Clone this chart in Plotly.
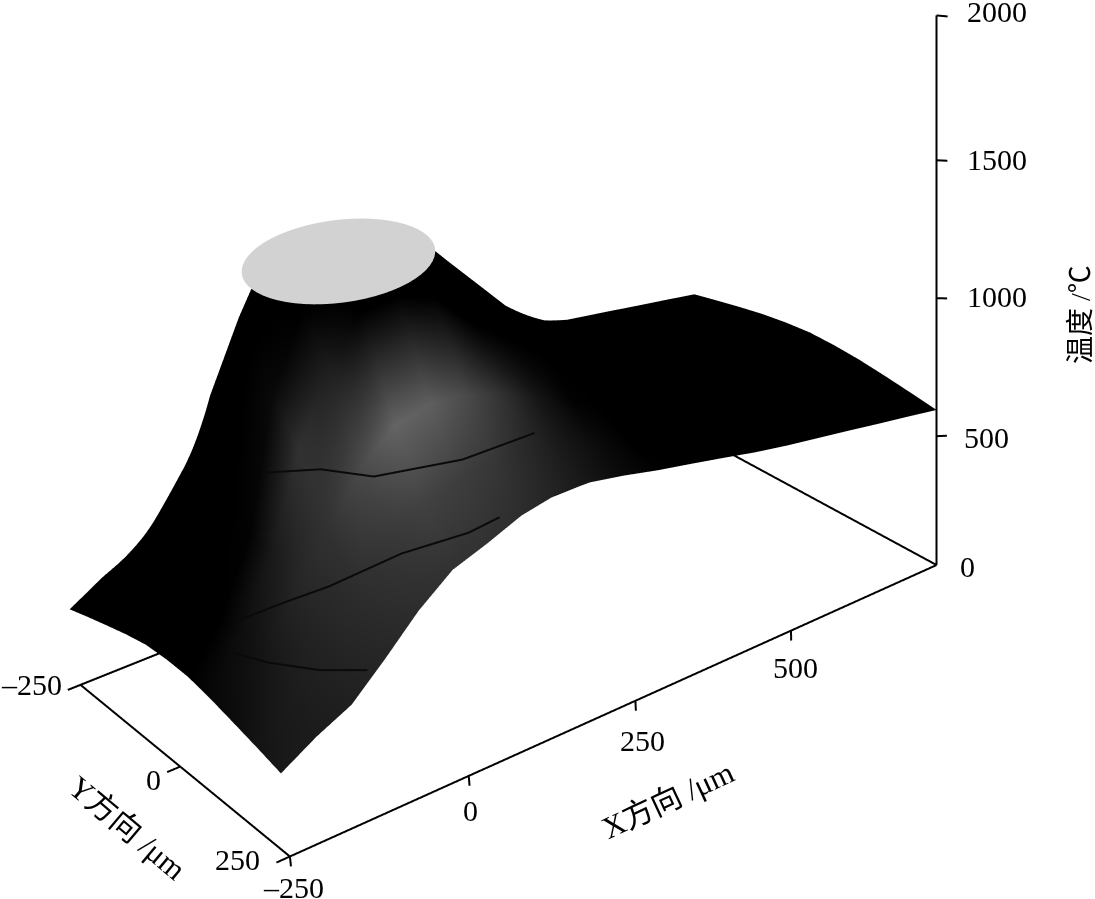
import numpy as np
import plotly.graph_objects as go

# ---- data ----
x_um = [-250,-200,-150,-100,-50,0,50,100,150,200,250,300,350,400,450,500,550,600,650,700,750]
y_um = [250,200,150,100,50,0,-50,-100,-150,-200,-250]
T_y250 = [281,351,408,514,622,708,749,796,820,818,797,771,749,726,702,682,665,648,630,613,595]
T_y200 = [308,437,541,671,791,871,911,931,921,891,856,821,791,761,736,716,696,676,656,636,613]
T_y150 = [333,501,681,831,990,1088,1118,1108,1068,1018,960,910,865,825,790,760,735,710,685,660,630]
T_y100 = [357,540,750,1048,1277,1427,1440,1397,1267,1178,1088,1013,950,900,855,815,780,750,720,690,645]
T_y50  = [376,531,750,1178,1424,1433,1443,1453,1447,1307,1168,1078,1003,950,895,855,815,780,745,710,655]
T_y0   = [380,511,760,1277,1437,1446,1456,1466,1475,1317,1178,1075,1018,960,905,865,825,790,755,720,660]
T_yn50 = [376,531,750,1178,1450,1459,1469,1479,1447,1307,1168,1078,975,950,895,855,815,780,745,710,655]
G_y250 = [25,28,32,38,45,50,50,45,35,22,10,2,0,0,0,0,0,0,0,0,0]
G_y200 = [20,28,35,45,55,65,62,55,40,25,12,0,0,0,0,0,0,0,0,0,0]
G_y150 = [12,22,38,50,75,100,95,75,50,22,3,0,0,0,0,0,0,0,0,0,0]
G_y100 = [8,14,25,50,30,0,0,0,0,0,0,0,0,0,0,0,0,0,0,0,0]
G_y50  = [0,0,3,10,0,0,0,0,0,0,0,0,0,0,0,0,0,0,0,0,0]
iso_1 = [(-122,52,945),(-88,124,995),(-40,160,963),(60,195,965),(115,185,950),(170,185,950)]
iso_2 = [(-196,92,565),(-160,135,632),(-122,175,690),(-42,210,760),(34,235,783),(76,240,802)]
iso_3 = [(-215,100,483),(-198,152,490),(-164,208,493),(-122,245,492)]
melt_center_um = (35, 0)
melt_semi_um = (118, 102.5)
melt_skew_um = 16
melt_T = 1490
x_ticks = [-250,0,250,500]
y_ticks = [-250,0,250]
z_ticks = [0,500,1000,1500,2000]
z_tick_screen_share = [0,469,971,1473,2000]

# ---- reference camera: foreshortening of the floor and of the heights ----
def project(x, y, z):
    x, y, z = np.asarray(x,float), np.asarray(y,float), np.asarray(z,float)
    u = (x+250)/1000; v = (250-y)/500
    w = 1+.147*u+.1*v
    px = (784.7*u-202*v+290)/w
    py = (-209*u-103.5*v+857)/w
    L = np.interp(z, z_ticks, z_tick_screen_share)*.275*1.147/w
    L = np.where(z<0, z*.275, L)
    ix = px-L*(937-px)/6000
    dx, dy = ix-290, py-857
    det = -172604.
    return (-172*dx+210*dy)/det, (647*dy+292*dx)/det, L/550

rows = np.array([T_y250,T_y200,T_y150,T_y100,T_y50,T_y0,T_yn50,T_y100,T_y150,T_y200,T_y250],float)
zero = [0]*len(x_um)
shade = [G_y250,G_y200,G_y150,G_y100,G_y50,zero,zero,zero,zero,zero,zero]
XX, YY = np.meshgrid(x_um, y_um)
SX, SY, SZ = project(XX, YY, rows)

k = 1.791/806
span = 1.6
unit = (806*k, 352*k, 693*k)
view = (-.473,-.638,.608)

fig = go.Figure()
fig.add_trace(go.Surface(x=SX, y=SY, z=SZ, surfacecolor=np.array(shade,float),
    colorscale=[[0,'#000000'],[1,'#ffffff']], cmin=0, cmax=255, showscale=False, hoverinfo='skip',
    lighting=dict(ambient=1,diffuse=0,specular=0,fresnel=0),
    contours=dict(x=dict(highlight=False),y=dict(highlight=False),z=dict(highlight=False))))

# flat melt-pool cap
ang = np.radians(np.arange(0,360,6))
cx = np.r_[melt_center_um[0], melt_center_um[0]+melt_semi_um[0]*np.cos(ang)]
cy = np.r_[melt_center_um[1], melt_center_um[1]+melt_skew_um*np.cos(ang)+melt_semi_um[1]*np.sin(ang)]
F = project(cx, cy, np.zeros(cx.shape))
T0 = project(melt_center_um[0], melt_center_um[1], melt_T)
CX = F[0]+(T0[0]-F[0][0]); CY = F[1]+(T0[1]-F[1][0]); CZ = np.full(cx.shape, float(T0[2]))
n = len(ang)
fig.add_trace(go.Mesh3d(x=CX,y=CY,z=CZ,i=[0]*n,j=list(range(1,n+1)),k=[(q%n)+1 for q in range(1,n+1)],
    color='#d2d2d2',flatshading=True,hoverinfo='skip',
    lighting=dict(ambient=1,diffuse=0,specular=0,fresnel=0)))

# dark lines on the slope, nudged towards the viewer so that the facets do not hide them
xs,ys,zs=[],[],[]
for line in (iso_1, iso_2, iso_3):
    a = np.array(line,float)
    P = project(a[:,0],a[:,1],a[:,2])
    xs += list(P[0]+.25*view[0]/unit[0])+[None]
    ys += list(P[1]+.25*view[1]/unit[1])+[None]
    zs += list(P[2]+.25*view[2]/unit[2])+[None]
fig.add_trace(go.Scatter3d(x=xs,y=ys,z=zs,mode='lines',line=dict(color='#0a0a0a',width=4),hoverinfo='skip',showlegend=False))

def seg(p, q):
    a = project(*p); b = project(*q)
    return [[float(a[i]),float(b[i]),None] for i in range(3)]
def add_lines(segs, width):
    xs,ys,zs=[],[],[]
    for s in segs:
        xs+=s[0]; ys+=s[1]; zs+=s[2]
    fig.add_trace(go.Scatter3d(x=xs,y=ys,z=zs,mode='lines',line=dict(color='#000000',width=width),hoverinfo='skip',showlegend=False))

frame = [seg((-250,250,0),(750,250,0)), seg((-250,250,0),(-250,-250,0)),
         seg((-250,-250,0),(750,-250,0)), seg((750,-250,0),(750,250,0)),
         seg((750,250,0),(750,250,2000))]
ticks = []
for t in x_ticks:
    ticks.append(seg((t,250,0),(t,250,-36)))
for t in y_ticks:
    ticks.append(seg((-250,t,0),(-268,t,0)))
for t in z_ticks[1:]:
    ticks.append(seg((750,250,t),(768,250,t-15)))
add_lines(frame,4); add_lines(ticks,4)

NUM = dict(family='Liberation Serif',size=30,color='#000000')
ann = []
def label(p, text, xs, ys, xa='center', font=NUM, ta=0):
    a = project(*p)
    ann.append(dict(x=float(a[0]),y=float(a[1]),z=float(a[2]),text=text,showarrow=False,xanchor=xa,yanchor='middle',
                    xshift=xs,yshift=ys,font=font,textangle=ta))
fmt = lambda t: ('\u2013'+str(-t)) if t<0 else str(t)
for t,(xs_,ys_) in zip(x_ticks,[(4,-31),(2,-35),(7,-40),(5,-37)]):
    label((t,250,0),fmt(t),xs_,ys_)
for t,(xs_,ys_,xa) in zip(y_ticks,[(-17,0,'right'),(-27,-13,'center'),(-52,-3,'center')]):
    label((-250,t,0),fmt(t),xs_,ys_,xa)
for t,xs_,ys_ in zip(z_ticks,[21,25,28,28,28],[-1,-1,2,1,4]):
    label((750,250,t),fmt(t),xs_,ys_,'left')

W,H=1095,899
FAM='Liberation Serif, Noto Sans CJK SC'
titles = [('X方向 /μm',667,800,-25,31),('Y方向 /μm',127,827,40,31),('温度 /℃',1081,315,-90,28)]
pann = [dict(x=a/W,y=1-b/H,xref='paper',yref='paper',text=t,textangle=r,showarrow=False,
             font=dict(family=FAM,size=s,color='#000000'),xanchor='center',yanchor='middle')
        for t,a,b,r,s in titles]

c = (-.0104,-.1595,-.1755)
d = tuple(2*v for v in view)
ax = dict(visible=False,showspikes=False,autorange=False)
fig.update_layout(width=W,height=H,margin=dict(l=0,r=0,t=0,b=0),paper_bgcolor='white',showlegend=False,annotations=pann,
    scene=dict(domain=dict(x=[0,1],y=[0,1]),
        xaxis=dict(ax,range=[-.3,1.3]),yaxis=dict(ax,range=[-.3,1.3]),zaxis=dict(ax,range=[-.3,1.3]),
        aspectmode='manual',aspectratio=dict(x=unit[0]*span,y=unit[1]*span,z=unit[2]*span),
        camera=dict(projection=dict(type='orthographic'),up=dict(x=0,y=0,z=1),center=dict(x=c[0],y=c[1],z=c[2]),
                    eye=dict(x=c[0]+d[0],y=c[1]+d[1],z=c[2]+d[2])),
        bgcolor='white',annotations=ann))
fig.write_html("out.html", config={'displayModeBar':False}, post_script="document.body.style.margin='0';")
